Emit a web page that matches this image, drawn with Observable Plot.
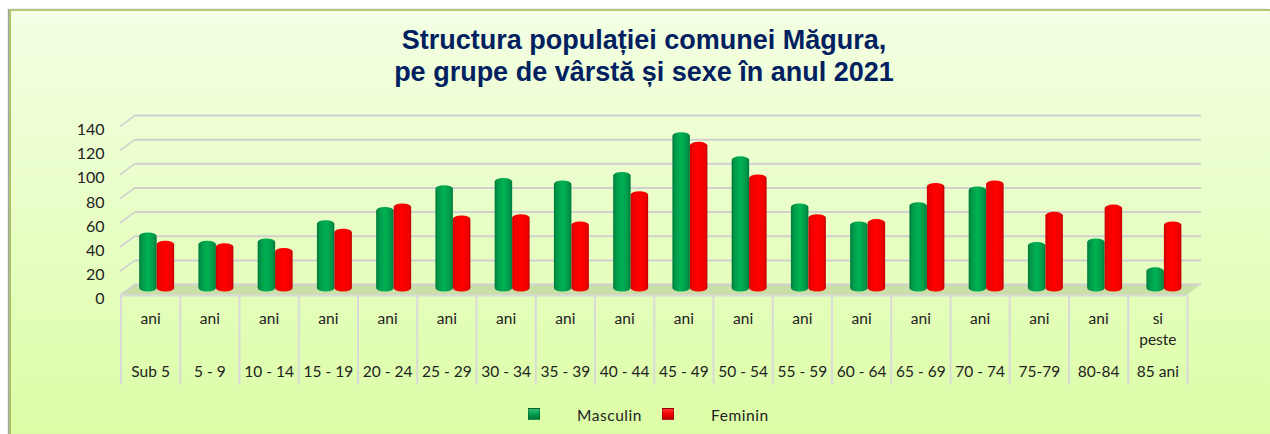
<!DOCTYPE html>
<html lang="ro">
<head>
<meta charset="utf-8">
<script src="https://cdn.jsdelivr.net/npm/d3@7"></script>
<script src="https://cdn.jsdelivr.net/npm/@observablehq/plot@0.6"></script>
<style>
html,body{margin:0;padding:0;background:#fff;overflow:hidden}
#frame{position:absolute;left:9px;top:9px;width:1259px;height:423px;border-top:2px solid #b2c97c;border-left:2px solid #a9c46c;border-right:0;
  background:linear-gradient(#f4ffe4,#dcfda6);box-shadow:-1px 0 1px rgba(0,0,0,.35);font-family:Lato,sans-serif}
#title{width:1259px;height:89px;box-sizing:border-box;padding:13px 0 0 7px;text-align:center;font:bold 27px/32px "Liberation Sans",Arial,sans-serif;color:#002060}
#plot svg{display:block}
#legend{position:absolute;left:0;top:394px;width:100%;height:24px;font-size:15.5px;letter-spacing:.55px;color:#222}
#legend span{position:absolute;top:1px;line-height:18px}
#legend i{position:absolute;top:3px;width:10px;height:10px;display:block;border:.5px solid rgba(0,0,0,.25)}
</style>
</head>
<body>
<div id="frame">
  <div id="title">Structura populației comunei Măgura,<br>pe grupe de vârstă și sexe în anul 2021</div>
  <div id="plot"></div>
  <div id="legend"></div>
</div>
<script>
const ageGroups = ["Sub 5","5 - 9","10 - 14","15 - 19","20 - 24","25 - 29","30 - 34","35 - 39","40 - 44","45 - 49","50 - 54","55 - 59","60 - 64","65 - 69","70 - 74","75-79","80-84","85 ani"];
const upperLabels = ["ani","ani","ani","ani","ani","ani","ani","ani","ani","ani","ani","ani","ani","ani","ani","ani","ani","si\npeste"];
const masculin = [49,42,44,59,70,88,94,92,99,132,112,73,58,74,87,41,44,20];
const feminin  = [42,40,36,52,73,63,64,58,83,124,97,64,60,90,92,66,72,58];
const yTicks = [0,20,40,60,80,100,120,140];
const seriesNames = ["Masculin","Feminin"];

const depthX = 0.23, depthY = 9.1;   // oblique offset of the chart's back wall, in scale units
const rows = ageGroups.map((age,i)=>({age,i,upper:upperLabels[i],m:masculin[i],f:feminin[i]}));
const edges = d3.range(ageGroups.length+1);
const n = ageGroups.length;
const textColor = "#222";
const bar = {rx:8.5, ry:3.5, dy:-3.5, y1:0};

const defs = () => {
  const s = d3.create("svg:defs");
  s.html(`
   <linearGradient id="gm" x1="0" x2="1" y1="0" y2="0">
     <stop offset="0" stop-color="#007a3a"/><stop offset=".18" stop-color="#009a4a"/>
     <stop offset=".5" stop-color="#00b253"/><stop offset=".82" stop-color="#009a4a"/><stop offset="1" stop-color="#007a3a"/>
   </linearGradient>
   <linearGradient id="gf" x1="0" x2="1" y1="0" y2="0">
     <stop offset="0" stop-color="#c80000"/><stop offset=".15" stop-color="#f00000"/>
     <stop offset=".5" stop-color="#ff0000"/><stop offset=".85" stop-color="#f00000"/><stop offset="1" stop-color="#c00000"/>
   </linearGradient>`);
  return s.node();
};

const chart = Plot.plot({
  width:1259, height:300,
  marginLeft:109.5, marginRight:83, marginTop:14, marginBottom:15.7,
  style:{background:"transparent", fontFamily:"Lato,sans-serif", overflow:"visible"},
  x:{domain:[0,n], axis:null},
  y:{domain:[-74,150], axis:null},
  marks:[
    defs,
    Plot.area([{a:0,b:n,v:0},{a:depthX,b:n+depthX,v:depthY}],{x1:"a",x2:"b",y1:"v",y2:"v",fill:"#cadfa8"}),
    Plot.link(yTicks,{x1:depthX,x2:n+depthX,y1:d=>d+depthY,y2:d=>d+depthY,stroke:"#d0d0d0",strokeWidth:2}),
    Plot.link(yTicks,{x1:-0.02,x2:depthX,y1:d=>d,y2:d=>d+depthY,stroke:"#d0d0d0",strokeWidth:1.6}),
    Plot.ruleY([0],{x1:0,x2:n,stroke:"#dadada",strokeWidth:2}),
    Plot.ruleX(edges,{y1:0,y2:-74,stroke:"#d9d9d9",strokeWidth:2}),
    Plot.rectY(rows,{x1:d=>d.i+0.315,x2:d=>d.i+0.61,y2:"m",fill:"url(#gm)",...bar}),
    Plot.rectY(rows,{x1:d=>d.i+0.61,x2:d=>d.i+0.905,y2:"f",fill:"url(#gf)",...bar}),
    Plot.axisY({ticks:yTicks,tickSize:0,tickPadding:16.5,fontSize:16,color:textColor,label:null,tickFormat:d=>d,fill:textColor,dy:3.5}),
    Plot.text(rows,{x:d=>d.i+0.5,y:0,text:"upper",dy:14,lineAnchor:"top",lineHeight:1.35,fontSize:15.5,fill:textColor}),
    Plot.text(rows,{x:d=>d.i+0.5,y:0,text:"age",dy:77,fontSize:15.5,fill:textColor,letterSpacing:".3px"})
  ]
});
document.getElementById("plot").append(chart);

const leg = document.getElementById("legend");
const spec = [[seriesNames[0],517,566,"linear-gradient(#2fbf74,#00994a 55%,#007a3a)"],[seriesNames[1],651,700,"linear-gradient(#ff3030,#f00000 55%,#b80000)"]];
for (const [name,sx,tx,bg] of spec){
  const i=document.createElement("i");i.style.left=sx+"px";i.style.background=bg;leg.append(i);
  const s=document.createElement("span");s.style.left=tx+"px";s.textContent=name;leg.append(s);
}
</script>
</body>
</html>
